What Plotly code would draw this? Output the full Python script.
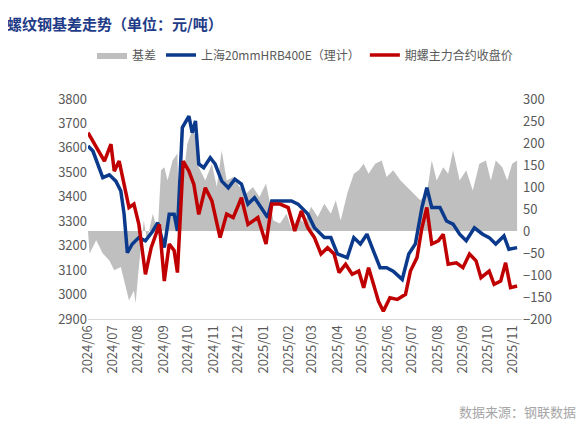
import pandas as pd
import plotly.graph_objects as go

start = pd.Timestamp("2024-06-01")

spot_days = [0,6,18,26,34,40,44,48,54,62,70,79,85,93,99,105,109,115,123,127,131,135,141,149,155,163,171,179,187,195,203,211,219,224,248,256,268,276,288,296,304,316,324,332,340,348,356,364,372,383,391,399,407,413,419,429,437,445,453,461,471,481,489,497,507,513,523]
spot = [3608,3587,3478,3490,3464,3424,3329,3171,3207,3233,3220,3260,3294,3192,3329,3329,3260,3683,3730,3662,3710,3534,3519,3560,3534,3464,3437,3472,3452,3370,3396,3356,3315,3383,3383,3370,3329,3273,3233,3233,3166,3151,3233,3207,3247,3178,3110,3110,3096,3062,3166,3207,3356,3437,3356,3356,3301,3288,3247,3220,3273,3247,3233,3207,3240,3185,3192]

fut_days = [0,6,14,20,28,32,38,44,50,56,62,70,77,87,93,99,105,109,116,123,129,135,143,151,161,169,177,187,195,207,217,224,234,244,252,260,268,276,284,292,300,306,314,322,330,336,342,348,354,360,368,377,387,393,401,407,413,419,427,433,439,449,457,465,473,479,489,495,503,509,515,523]
fut = [3662,3628,3587,3546,3615,3505,3546,3451,3356,3370,3287,3083,3192,3287,3055,3207,3180,3090,3546,3505,3451,3328,3437,3383,3233,3329,3315,3396,3287,3315,3207,3370,3370,3356,3260,3342,3273,3233,3166,3192,3166,3090,3124,3083,3096,3028,3110,3042,2973,2932,2987,2980,3001,3096,3151,3273,3356,3207,3220,3247,3124,3130,3110,3166,3138,3069,3096,3042,3055,3130,3028,3035]

basis_days = [0,2,10,18,26,32,40,46,50,56,58,62,68,72,79,85,89,93,97,103,109,111,115,121,127,131,135,143,151,157,163,169,177,185,193,201,209,217,226,234,242,248,256,264,272,280,288,296,302,308,316,324,330,336,342,350,358,364,372,381,389,397,405,413,419,425,433,439,445,453,461,469,477,485,491,497,505,511,517,523]
basis = [0,-51,-21,-51,-67,-89,-82,-127,-158,-135,-165,-82,24,-21,39,0,138,145,115,160,176,17,100,198,229,214,145,115,153,100,183,115,123,100,85,100,77,108,24,17,39,5,32,17,55,32,62,39,70,24,85,130,138,153,130,153,160,123,138,115,100,85,70,85,160,115,145,130,183,115,138,92,153,160,115,160,145,115,153,160]

def dates(d):
    return [start + pd.Timedelta(days=x) for x in d]

fig = go.Figure()
fig.add_trace(go.Scatter(x=dates(basis_days), y=basis, name="基差", yaxis="y",
                         fill="tozeroy", fillcolor="#BFBFBF", line=dict(width=0, color="#BFBFBF"),
                         mode="lines"))
fig.add_trace(go.Scatter(x=dates(spot_days), y=spot, name="上海20mmHRB400E（理计）", yaxis="y2",
                         line=dict(color="#0B3A8C", width=3.5), mode="lines"))
fig.add_trace(go.Scatter(x=dates(fut_days), y=fut, name="期螺主力合约收盘价", yaxis="y2",
                         line=dict(color="#C00000", width=3.5), mode="lines"))

tickfont = dict(family="Noto Sans CJK SC", size=13, color="#595959")
fig.update_layout(
    width=585, height=433, paper_bgcolor="white", plot_bgcolor="white",
    margin=dict(l=80, r=71, t=91, b=122, autoexpand=False),
    font=dict(family="Noto Sans CJK SC", size=13, color="#595959"),
    showlegend=True,
    legend=dict(orientation="h", x=0.5, xanchor="center", y=1.2, yanchor="middle",
                font=dict(size=12, color="#595959"), itemwidth=30, tracegroupgap=0),
    xaxis=dict(type="date", range=["2024-06-01", "2025-11-12"], dtick="M1", tick0="2024-06-01",
               tickformat="%Y/%m", tickangle=-90, showgrid=False, showline=True,
               linecolor="#D9D9D9", tickfont=tickfont, ticks=""),
    yaxis=dict(range=[-200, 300], dtick=50, side="right", showgrid=False,
               zeroline=False, tickfont=tickfont),
    yaxis2=dict(range=[2900, 3800], dtick=100, overlaying="y", side="left", showgrid=False,
                zeroline=False, tickfont=tickfont),
    annotations=[
        dict(text="<b>螺纹钢基差走势（单位：元/吨）</b>", x=0, y=1, xref="paper", yref="paper",
             xanchor="left", yanchor="top", showarrow=False, xshift=-83, yshift=88,
             font=dict(size=15, color="#1F3C88", family="Noto Sans CJK SC")),
        dict(text="数据来源：钢联数据", x=1, y=0, xref="paper", yref="paper",
             xanchor="right", yanchor="middle", showarrow=False, xshift=56, yshift=-92,
             font=dict(size=13, color="#A6A6A6", family="Noto Sans CJK SC")),
    ],
)
fig.write_html("out.html")
